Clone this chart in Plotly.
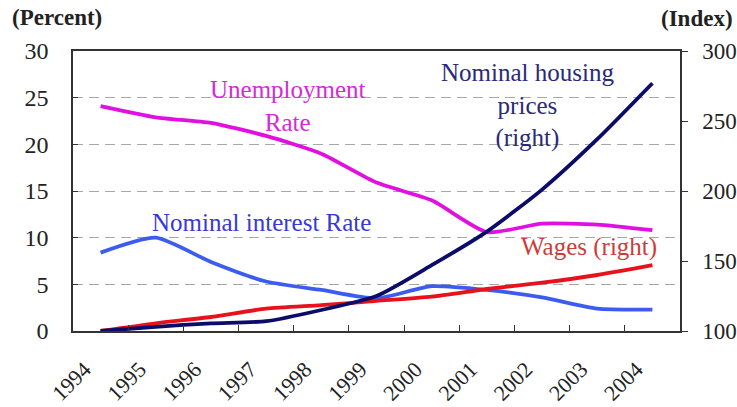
import plotly.graph_objects as go

years = ["1994", "1995", "1996", "1997", "1998", "1999",
         "2000", "2001", "2002", "2003", "2004"]

# Left axis (percent)
unemployment = [24.1, 22.9, 22.3, 20.9, 19.0, 15.9, 14.0, 10.6, 11.5, 11.4, 10.8]
interest_rate = [8.4, 10.0, 7.4, 5.3, 4.4, 3.5, 4.8, 4.4, 3.6, 2.4, 2.3]

# Right axis (index)
housing_prices = [100, 103, 105.5, 107, 115, 125, 147, 171, 201, 237, 277]
wages = [100, 105.5, 110, 116, 118.5, 121.5, 124.5, 130, 134.5, 140, 147]

SERIF = "Liberation Serif"
MAGENTA = "#E010E0"
BLUE = "#3C5CF0"
RED = "#E8121C"
NAVY = "#0B0B6A"

fig = go.Figure()
line_style = dict(shape="spline", smoothing=0.6, width=3.8)

fig.add_trace(go.Scatter(x=years, y=unemployment, mode="lines",
                         line=dict(color=MAGENTA, **line_style), yaxis="y"))
fig.add_trace(go.Scatter(x=years, y=interest_rate, mode="lines",
                         line=dict(color=BLUE, **line_style), yaxis="y"))
fig.add_trace(go.Scatter(x=years, y=wages, mode="lines",
                         line=dict(color=RED, **line_style), yaxis="y2"))
fig.add_trace(go.Scatter(x=years, y=housing_prices, mode="lines",
                         line=dict(color=NAVY, **line_style), yaxis="y2"))

fig.update_layout(
    width=737, height=407,
    margin=dict(l=73, r=57, t=51, b=76),
    paper_bgcolor="white", plot_bgcolor="white",
    showlegend=False,
    font=dict(family=SERIF),
    xaxis=dict(
        type="category", range=[-0.5, 10.5], tickangle=-45,
        tickfont=dict(family=SERIF, size=22, color="#222222"),
        ticks="inside", tickson="boundaries", ticklen=6, tickcolor="#333",
        showline=True, linecolor="#333", linewidth=1.5, mirror=True,
        showgrid=False, zeroline=False, automargin=False,
        ticklabelshift=-16, ticklabelstandoff=15,
    ),
    yaxis=dict(
        range=[0, 30], dtick=5,
        tickfont=dict(family=SERIF, size=24, color="#222222"),
        ticks="inside", ticklen=5, tickcolor="#333",
        showline=True, linecolor="#333", linewidth=1.5,
        showgrid=True, gridcolor="#A8A8A8", griddash="10px,6px", gridwidth=1,
        zeroline=False, ticklabelstandoff=18, automargin=False,
    ),
    yaxis2=dict(
        range=[100, 300], dtick=50, overlaying="y", side="right",
        tickfont=dict(family=SERIF, size=23, color="#222222"),
        ticks="outside", ticklen=6, tickcolor="#333",
        showline=True, linecolor="#333", linewidth=1.5,
        showgrid=False, zeroline=False, ticklabelstandoff=10, automargin=False,
    ),
)

annots = [
    dict(text="<b>(Percent)</b>", x=-0.104, y=1.12, xanchor="left",
         font=dict(size=23, color="#222")),
    dict(text="<b>(Index)</b>", x=1.09, y=1.115, xanchor="right",
         font=dict(size=23, color="#222")),
    dict(text="Unemployment<br>Rate", x=0.354, y=0.804, xanchor="center",
         font=dict(size=25, color="#D62AD6")),
    dict(text="Nominal housing<br>prices<br>(right)", x=0.748, y=0.804, xanchor="center",
         font=dict(size=25, color="#2A2A78")),
    dict(text="Nominal interest Rate", x=0.31, y=0.389, xanchor="center",
         font=dict(size=25, color="#3838D8")),
    dict(text="Wages (right)", x=0.85, y=0.30, xanchor="center",
         font=dict(size=25, color="#D03A3A")),
]
for a in annots:
    a["showarrow"] = False
    a["xref"] = "paper"
    a["yref"] = "paper"
    a["yanchor"] = "middle"
    a["font"]["family"] = SERIF
    fig.add_annotation(**a)

fig.write_html("out.html")
